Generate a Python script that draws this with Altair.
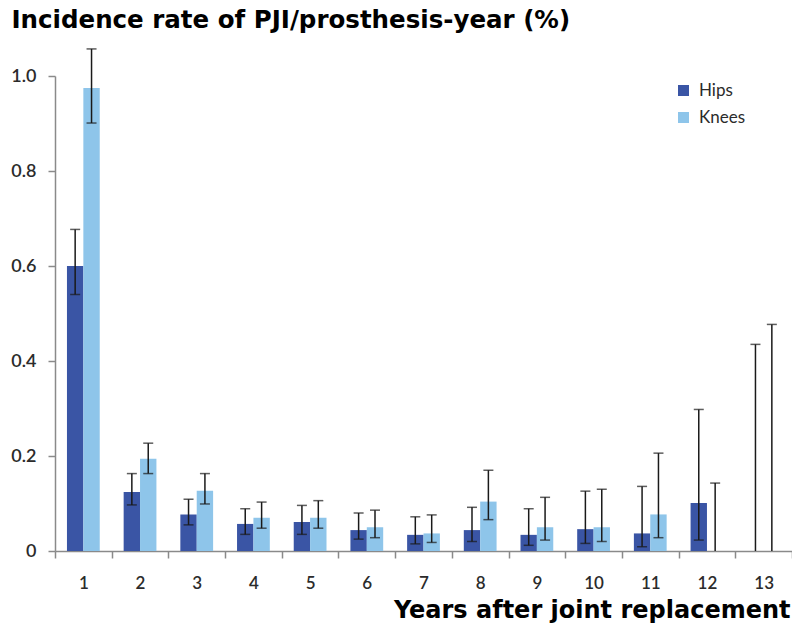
import altair as alt
import pandas as pd

years = [str(y) for y in range(1, 14)]
hips_rate = [0.600, 0.124, 0.077, 0.057, 0.061, 0.044, 0.034, 0.044, 0.034, 0.046, 0.037, 0.101, 0.0]
hips_lo = [0.540, 0.097, 0.055, 0.035, 0.035, 0.025, 0.015, 0.020, 0.012, 0.016, 0.009, 0.023, 0.0]
hips_hi = [0.677, 0.163, 0.109, 0.089, 0.096, 0.080, 0.072, 0.092, 0.089, 0.126, 0.136, 0.298, 0.435]
knees_rate = [0.975, 0.194, 0.127, 0.070, 0.070, 0.050, 0.037, 0.104, 0.050, 0.050, 0.077, 0.0, 0.0]
knees_lo = [0.901, 0.163, 0.099, 0.048, 0.048, 0.028, 0.018, 0.066, 0.023, 0.020, 0.028, 0.0, 0.0]
knees_hi = [1.057, 0.227, 0.163, 0.103, 0.106, 0.086, 0.076, 0.170, 0.113, 0.130, 0.206, 0.143, 0.477]
series = ["Hips", "Knees"]
colors = ["#3a55a5", "#8ec5ea"]

rows = []
for i, y in enumerate(years):
    rows.append({"year": y, "joint": "Hips", "rate": hips_rate[i], "lo": hips_lo[i], "hi": hips_hi[i]})
    rows.append({"year": y, "joint": "Knees", "rate": knees_rate[i], "lo": knees_lo[i], "hi": knees_hi[i]})
df = pd.DataFrame(rows)

FONT = "DejaVu Sans"
LFONT = "Lato"
LCOL = "#2b2b2b"
AXC = "#8a8a8a"

W = 737
H = 475

x_enc = alt.X(
    "year:N",
    sort=years,
    scale=alt.Scale(paddingInner=0, paddingOuter=0),
    axis=alt.Axis(
        title="Years after joint replacement",
        titleFont=FONT, titleFontSize=24, titleFontWeight="bold", titleColor="#000000",
        titleAnchor="end", titleAlign="right", titleBaseline="alphabetic",
        titleX=W - 2, titleY=66,
        labelAngle=0, labelFont=LFONT, labelFontSize=17, labelFontWeight=600, labelColor=LCOL,
        labelPadding=17, tickBand="extent", tickSize=7, tickColor=AXC,
        domainColor=AXC, tickWidth=1.5, domainWidth=1.5, grid=False,
    ),
)
xoff = alt.XOffset("joint:N", sort=series, scale=alt.Scale(paddingOuter=0.73, paddingInner=0))

base = alt.Chart(df)

bars = base.mark_bar().encode(
    x=x_enc,
    xOffset=xoff,
    y=alt.Y(
        "rate:Q",
        scale=alt.Scale(domain=[0, 1], nice=False),
        axis=alt.Axis(
            title="Incidence rate of PJI/prosthesis-year (%)",
            titleFont=FONT, titleFontSize=24.5, titleFontWeight="bold", titleColor="#000000",
            titleAngle=0, titleAlign="left", titleBaseline="alphabetic",
            titleX=-44, titleY=-49,
            values=[0, 0.2, 0.4, 0.6, 0.8, 1.0],
            labelExpr="datum.value == 0 ? '0' : format(datum.value, '.1f')",
            labelFont=LFONT, labelFontSize=18, labelFontWeight=600, labelColor=LCOL, labelPadding=12,
            tickSize=7, tickColor=AXC, domainColor=AXC, tickWidth=1.5, domainWidth=1.5,
            grid=False,
        ),
    ),
    color=alt.Color(
        "joint:N",
        sort=series,
        scale=alt.Scale(domain=series, range=colors),
        legend=alt.Legend(
            title=None, orient="none", legendX=620, legendY=6,
            symbolType="square", symbolSize=121, symbolStrokeWidth=0,
            labelFont=LFONT, labelFontSize=17, labelColor=LCOL,
            labelOffset=7, rowPadding=9, padding=0,
        ),
    ),
)

rules = base.mark_rule(color="#1a1a1a", strokeWidth=1.5, clip=False).encode(
    x=alt.X("year:N", sort=years),
    xOffset=xoff,
    y=alt.Y("lo:Q"),
    y2="hi:Q",
)

caps_top = base.mark_tick(color="#1a1a1a", size=10, thickness=1.5, orient="horizontal", clip=False).encode(
    x=alt.X("year:N", sort=years),
    xOffset=xoff,
    y=alt.Y("hi:Q"),
)

caps_bot = base.transform_filter("datum.lo > 0").mark_tick(
    color="#1a1a1a", size=10, thickness=1.5, orient="horizontal", clip=False
).encode(
    x=alt.X("year:N", sort=years),
    xOffset=xoff,
    y=alt.Y("lo:Q"),
)

chart = (
    alt.layer(bars, rules, caps_top, caps_bot)
    .properties(
        width=W, height=H,
        autosize=alt.AutoSizeParams(type="none"),
        padding={"left": 47, "top": 68, "right": 0, "bottom": 72},
        view=alt.ViewBackground(stroke="transparent", strokeWidth=0, strokeOpacity=0),
    )
    .configure_axis(grid=False)
    .configure_view(stroke="transparent", strokeWidth=0)
    .configure(background="white")
)

chart.save("out.html", embed_options={"renderer": "svg", "actions": False})
